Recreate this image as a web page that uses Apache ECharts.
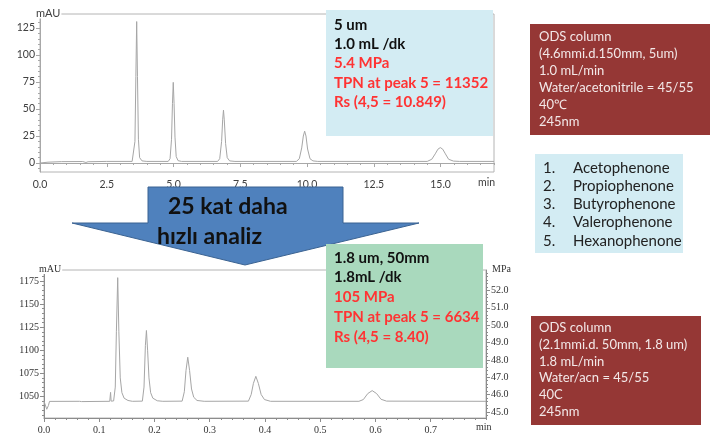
<!DOCTYPE html>
<html><head><meta charset="utf-8">
<script src="https://cdn.jsdelivr.net/npm/echarts@6/dist/echarts.min.js"></script>
<style>html,body{margin:0;padding:0;background:#fff}#c{width:710px;height:434px}</style>
</head><body><div id="c"></div>
<script>
// ---- data ----
const topTrace = [[0,0],[0.3,0.8],[0.8,1.3],[1.6,1.4],[1.72,0.5],[1.8,1.2],[2.5,1.5],[3.45,1.5],[3.51,3],[3.555,20],[3.59,80],[3.62,131],[3.65,80],[3.685,22],[3.73,5],[3.82,2],[4.0,1.5],[4.8,1.5],[4.87,4],[4.925,22],[4.96,55],[4.99,74.7],[5.02,55],[5.055,24],[5.1,6],[5.17,2.2],[5.3,1.5],[6.65,1.5],[6.73,4],[6.8,20],[6.84,40],[6.87,49],[6.9,40],[6.95,18],[7.01,5],[7.1,2],[7.3,1.5],[9.6,1.5],[9.71,4],[9.8,14],[9.86,25],[9.91,29.5],[9.96,25],[10.02,13],[10.11,4],[10.22,2],[10.4,1.5],[14.5,1.5],[14.67,3.5],[14.8,8.5],[14.9,12.8],[14.99,14.3],[15.08,12.8],[15.18,8.5],[15.3,3.5],[15.48,1.8],[15.7,1.5],[17,1.5]];
const bottomTrace = [[0,1044.6],[0.003,1044.6],[0.005,1036],[0.0065,1034.8],[0.008,1040],[0.01,1044.5],[0.064,1044.6],[0.066,1043.2],[0.068,1044.3],[0.119,1044.6],[0.1205,1054.3],[0.1215,1044.8],[0.126,1045],[0.129,1060],[0.131,1120],[0.1334,1178.7],[0.1355,1120],[0.138,1070],[0.141,1054],[0.145,1048],[0.152,1045.5],[0.16,1044.6],[0.178,1044.8],[0.181,1060],[0.1835,1105],[0.1854,1121.4],[0.1875,1100],[0.19,1070],[0.193,1054],[0.197,1048],[0.205,1045.2],[0.215,1044.6],[0.25,1044.8],[0.254,1055],[0.257,1078],[0.2602,1092.4],[0.2635,1078],[0.267,1058],[0.271,1049],[0.277,1045.5],[0.29,1044.6],[0.37,1044.8],[0.375,1052],[0.379,1064],[0.3834,1071.7],[0.388,1064],[0.393,1052],[0.399,1046.5],[0.41,1044.6],[0.57,1044.6],[0.578,1046.5],[0.586,1053],[0.594,1056.2],[0.602,1053],[0.61,1046.8],[0.62,1044.8],[0.8,1044.6]];

const topXTicks = [0, 2.5, 5, 7.5, 10, 12.5, 15];
const topYTicks = [0, 25, 50, 75, 100, 125];
const botXTicks = [0, 0.1, 0.2, 0.3, 0.4, 0.5, 0.6, 0.7];
const botYTicks = [1050, 1075, 1100, 1125, 1150, 1175];
const mpaTicks = [45, 46, 47, 48, 49, 50, 51, 52];

const box1Lines = [['5 um','#111'],['1.0 mL /dk','#111'],['5.4 MPa','#ff3333'],['TPN at peak 5 = 11352','#ff3333'],['Rs (4,5 = 10.849)','#ff3333']];
const box2Lines = [['1.8 um, 50mm','#111'],['1.8mL /dk','#111'],['105 MPa','#ff3333'],['TPN at peak 5 = 6634','#ff3333'],['Rs (4,5 = 8.40)','#ff3333']];
const cond1Lines = ['ODS column','(4.6mmi.d.150mm, 5um)','1.0 mL/min','Water/acetonitrile = 45/55','40\u2103','245nm'];
const cond2Lines = ['ODS column','(2.1mmi.d. 50mm, 1.8 um)','1.8 mL/min','Water/acn = 45/55','40C','245nm'];
const compounds = ['Acetophenone','Propiophenone','Butyrophenone','Valerophenone','Hexanophenone'];
const arrowLines = ['25 kat daha','h\u0131zl\u0131 analiz'];

// ---- helpers ----
function steps(a, b, s) { const r = []; for (let v = a; v <= b + 1e-9; v += s) r.push(+v.toFixed(4)); return r; }

const topMinorX = steps(0, 17, 0.5);
const topMinorY = steps(-5, 135, 5);
const botMinorX = steps(0, 0.8, 0.02);
const botMinorY = steps(1030, 1185, 5);
const mpaMinor = steps(44.8, 53, 0.2);

const sansLab = { fontFamily: 'Lato', fontSize: 10.5, color: '#404040' };
const serifLab = { fontFamily: 'Liberation Serif', fontSize: 10, color: '#333' };

const topX = [0, 17], topY = [-8.3, 138];
const botX = [0, 0.8], botY = [1026.5, 1187], mpaR = [44.65, 53.18];

function mkX(grid, range, ticks, minor, lab, axisColor, fmt) {
  return [
    { type: 'value', gridIndex: grid, min: range[0], max: range[1], position: 'bottom',
      axisLine: { show: true, lineStyle: { color: axisColor } },
      axisTick: { show: true, length: 4, customValues: ticks, lineStyle: { color: axisColor } },
      axisLabel: Object.assign({ customValues: ticks, margin: 7, formatter: fmt }, lab),
      splitLine: { show: false } },
    { type: 'value', gridIndex: grid, min: range[0], max: range[1], position: 'bottom',
      axisLine: { show: false },
      axisTick: { show: true, length: 2, customValues: minor, lineStyle: { color: axisColor } },
      axisLabel: { show: false }, splitLine: { show: false } }
  ];
}
function mkY(grid, range, ticks, minor, lab, axisColor, pos, fmt) {
  return [
    { type: 'value', gridIndex: grid, min: range[0], max: range[1], position: pos,
      axisLine: { show: true, lineStyle: { color: axisColor } },
      axisTick: { show: true, length: 4, customValues: ticks, lineStyle: { color: axisColor } },
      axisLabel: Object.assign({ customValues: ticks, margin: 5, formatter: fmt }, lab),
      splitLine: { show: false } },
    { type: 'value', gridIndex: grid, min: range[0], max: range[1], position: pos,
      axisLine: { show: false },
      axisTick: { show: true, length: 2, customValues: minor, lineStyle: { color: axisColor } },
      axisLabel: { show: false }, splitLine: { show: false } }
  ];
}

const xAxes = [].concat(
  mkX(0, topX, topXTicks, topMinorX, sansLab, '#a8a8a8', v => v.toFixed(1)),
  mkX(1, botX, botXTicks, botMinorX, serifLab, '#8c8c8c', v => v.toFixed(1))
);
const yAxes = [].concat(
  mkY(0, topY, topYTicks, topMinorY, sansLab, '#a8a8a8', 'left', v => String(v)),
  mkY(1, botY, botYTicks, botMinorY, serifLab, '#8c8c8c', 'left', v => String(v)),
  mkY(1, mpaR, mpaTicks, mpaMinor, serifLab, '#8c8c8c', 'right', v => v.toFixed(1))
);

// ---- graphics ----
const g = [];
function rect(x, y, w, h, fill) { g.push({ type: 'rect', z: 100, shape: { x, y, width: w, height: h }, style: { fill } }); }
function txt(x, y, t, font, fill, extra) { g.push({ type: 'text', z: 101, x, y, style: Object.assign({ text: t, font, fill, textVerticalAlign: 'middle' }, extra || {}) }); }

// axis units
txt(36, 13, 'mAU', '11px Lato', '#404040', { backgroundColor: '#fff', padding: [0, 1, 0, 0] });
txt(478, 183, 'min', '10.5px Lato', '#404040');
txt(39, 269, 'mAU', '10px "Liberation Serif"', '#333', { backgroundColor: '#fff', padding: [0, 1, 0, 0] });
txt(492, 269, 'MPa', '10px "Liberation Serif"', '#333');
txt(476, 427, 'min', '10px "Liberation Serif"', '#333');

// arrow
g.push({ type: 'polygon', z: 100, shape: { points: [[148,187],[343,187],[343,223],[419,223],[245,265],[72,223],[148,223]] },
  style: { fill: '#4f81bd', stroke: '#3b6392', lineWidth: 1 } });
txt(168, 207, arrowLines[0], 'bold 23px Lato', '#111');
txt(157, 237, arrowLines[1], 'bold 23px Lato', '#111');

// top-left info box
rect(326, 10, 167, 126, '#d3ecf3');
[25, 44, 63, 83, 102].forEach((y, i) => txt(334, y, box1Lines[i][0], 'bold 15px Lato', box1Lines[i][1]));
// bottom info box
rect(326, 244, 157, 124, '#a9d9bd');
[258, 277, 297, 317, 337].forEach((y, i) => txt(334, y, box2Lines[i][0], 'bold 15px Lato', box2Lines[i][1]));
// condition boxes
rect(530, 24, 180, 111, '#953735');
[37, 54, 71, 88, 105, 122].forEach((y, i) => txt(539, y, cond1Lines[i], '13px Lato', '#f3e8e8'));
rect(531, 316, 170, 109, '#953735');
[328, 345, 362, 378, 395, 412].forEach((y, i) => txt(539, y, cond2Lines[i], '13px Lato', '#f3e8e8'));
// compound list
rect(535, 154, 148, 99, '#d3ecf3');
[168, 186, 204, 222, 241].forEach((y, i) => { txt(543, y, (i + 1) + '.', '15px Lato', '#222'); txt(573, y, compounds[i], '15px Lato', '#222'); });

const chart = echarts.init(document.getElementById('c'), null, { renderer: 'canvas' });
chart.setOption({
  animation: false,
  backgroundColor: '#fff',
  grid: [
    { left: 40, top: 14, width: 454, height: 158, show: true, borderColor: '#b4b4b4', borderWidth: 1, outerBoundsMode: 'none', containLabel: false },
    { left: 44, top: 270, width: 442, height: 148, show: true, borderColor: '#b4b4b4', borderWidth: 1, outerBoundsMode: 'none', containLabel: false }
  ],
  xAxis: xAxes,
  yAxis: yAxes,
  series: [
    { type: 'line', xAxisIndex: 0, yAxisIndex: 0, data: topTrace, showSymbol: false, symbol: 'none',
      lineStyle: { color: '#a6a6a6', width: 1 } },
    { type: 'line', xAxisIndex: 2, yAxisIndex: 2, data: bottomTrace, showSymbol: false, symbol: 'none',
      lineStyle: { color: '#a6a6a6', width: 1 } }
  ],
  graphic: g
});
</script></body></html>
